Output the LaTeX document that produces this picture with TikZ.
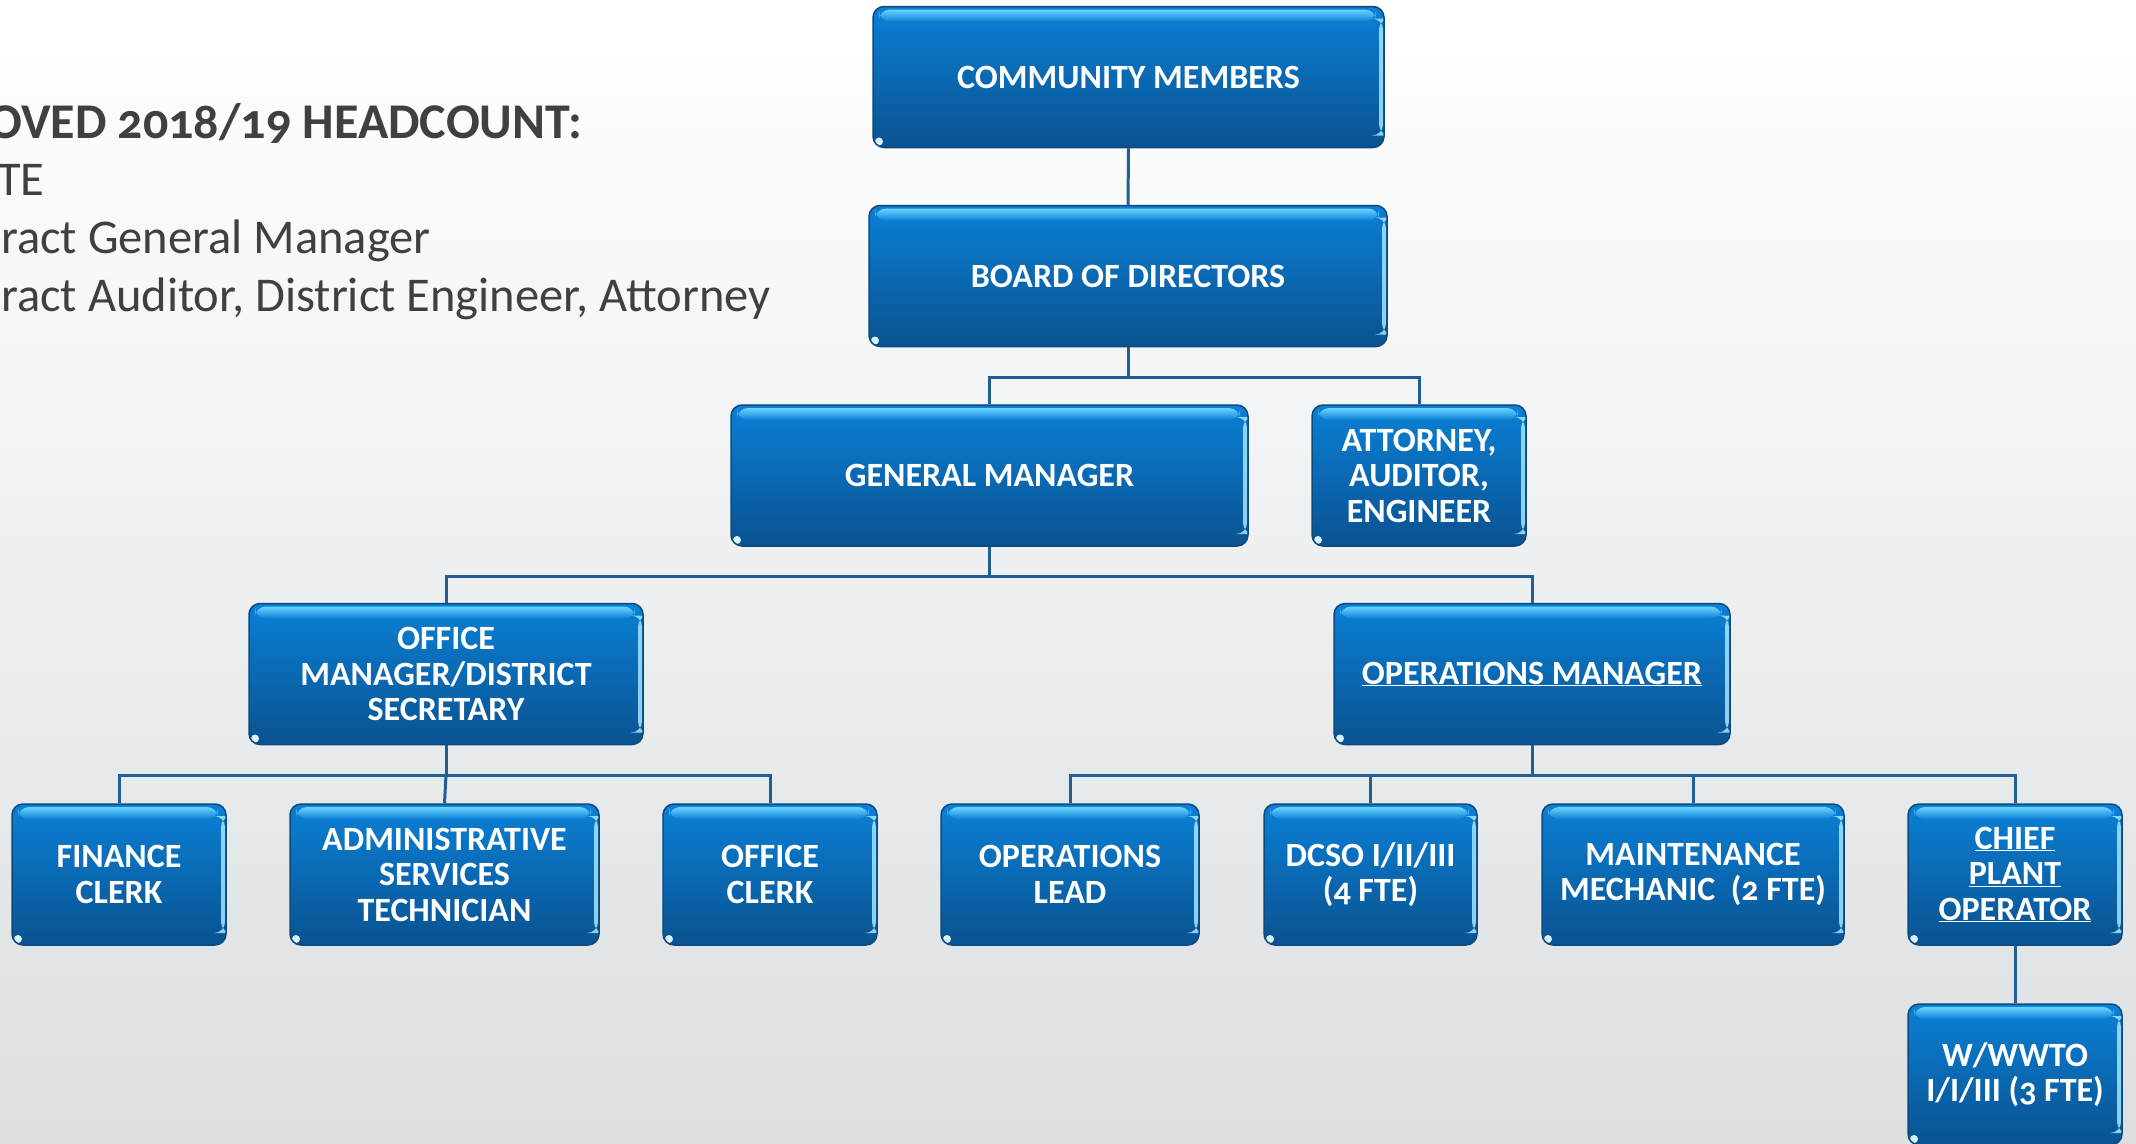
\documentclass[tikz,border=0pt]{standalone}
\usepackage{fontspec}
\setmainfont{Carlito}[Numbers=OldStyle]
\usetikzlibrary{calc}
\definecolor{boxtop}{HTML}{0A80D6}
\definecolor{boxbot}{HTML}{0A5290}
\definecolor{boxedge}{HTML}{0C4A7E}
\definecolor{gloss}{HTML}{6AD4FF}
\definecolor{linecol}{HTML}{1F5E96}
\definecolor{bgbot}{HTML}{DCE0E2}
\definecolor{txtgray}{HTML}{404040}
\tikzset{
  orgbox/.style={rectangle, rounded corners=11pt, draw=boxedge, line width=1.5pt,
    top color=boxtop, bottom color=boxbot, text=white,
    font=\fontsize{34}{35.5}\selectfont\bfseries, align=center, inner sep=0pt,
    minimum height=141pt, minimum width=#1pt,
    path picture={
      \path (path picture bounding box.north west) coordinate (pnw)
            (path picture bounding box.south east) coordinate (pse);
      \shade[top color=gloss, bottom color=boxtop] ($(pnw)+(6,3)$) rectangle ($(pse |- pnw)+(-8,15)$);
      \fill[gloss!60!white, opacity=0.85] ($(pse |- pnw)+(-5,12)$) rectangle ($(pse)+(-1,-12)$);
      \fill[white!75!gloss] ($(pnw |- pse)+(6,-6)$) circle (4);
    }},
  conn/.style={draw=linecol, line width=3pt},
  headtxt/.style={anchor=base west, text=txtgray, inner sep=0pt, font=\fontsize{48.5}{52}\selectfont}
}
\begin{document}
\begin{tikzpicture}[x=1pt,y=-1pt]
\clip (0,0) rectangle (2136,1143);
\shade[top color=white, bottom color=bgbot] (0,0) rectangle (2136,1143);

% heading text
\node[headtxt, font=\fontsize{50}{54}\selectfont\bfseries] (h1) at (-12,138) {OVED 2018/19 HEADCOUNT:};
\node[headtxt] (h2) at (-3,195) {TE};
\node[headtxt] (h3) at (1,253) {ract General Manager};
\node[headtxt] (h4) at (1,311) {ract Auditor, District Engineer, Attorney};

% boxes
\node[orgbox=511] (cm) at (1128.5,77) {COMMUNITY MEMBERS};
\node[orgbox=518] (bod) at (1128,276) {BOARD OF DIRECTORS};
\node[orgbox=517] (gm) at (989.5,475.5) {GENERAL MANAGER};
\node[orgbox=214] (att) at (1419,475.5) {ATTORNEY,\\AUDITOR,\\ENGINEER};
\node[orgbox=394] (om) at (446,674) {OFFICE\\MANAGER/DISTRICT\\SECRETARY};
\node[orgbox=396] (ops) at (1532,674) {\underline{OPERATIONS MANAGER}};
\node[orgbox=214] (fin) at (119,874.5) {FINANCE\\CLERK};
\node[orgbox=309] (adm) at (444.5,874.5) {ADMINISTRATIVE\\SERVICES\\TECHNICIAN};
\node[orgbox=214] (ocl) at (770,874.5) {OFFICE\\CLERK};
\node[orgbox=258] (lead) at (1070,874.5) {OPERATIONS\\LEAD};
\node[orgbox=213] (dcso) at (1370.5,874.5) {DCSO I/II/III\\(4 FTE)};
\node[orgbox=302] (mm) at (1693,874.5) {MAINTENANCE\\MECHANIC\ \ (2 FTE)};
\node[orgbox=214] (cpo) at (2015,874.5) {\underline{CHIEF}\\\underline{PLANT}\\\underline{OPERATOR}};
\node[orgbox=214] (ww) at (2015,1074.5) {W/WWTO\\I/I/III (3 FTE)};

% connectors
\draw[conn] (cm.south) -- (bod.north);
\draw[conn] (bod.south) -- ++(0,30) coordinate (bus1);
\draw[conn] (gm.north) |- (bus1) -| (att.north);
\draw[conn] (gm.south) -- ++(0,30) coordinate (bus2);
\draw[conn] (om.north) |- (bus2) -| (ops.north);
\draw[conn] (om.south) -- ++(0,30) coordinate (bus3);
\draw[conn] (fin.north) |- (bus3) -| (ocl.north);
\draw[conn] (bus3) -- (adm.north);
\draw[conn] (ops.south) -- ++(0,30) coordinate (bus4);
\draw[conn] (lead.north) |- (bus4) -| (cpo.north);
\draw[conn] (dcso.north) -- (dcso.north |- bus4);
\draw[conn] (mm.north) -- (mm.north |- bus4);
\draw[conn] (cpo.south) -- (ww.north);
\end{tikzpicture}
\end{document}
